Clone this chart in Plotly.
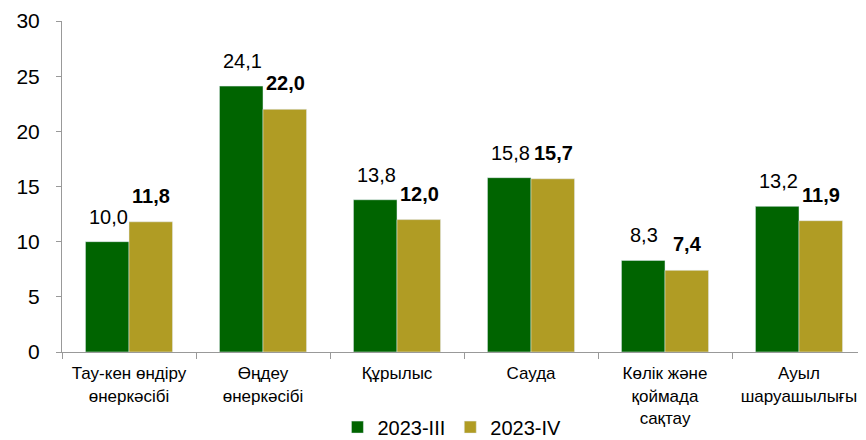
import plotly.graph_objects as go

categories = ["Тау-кен өндіру<br>өнеркәсібі", "Өңдеу<br>өнеркәсібі", "Құрылыс", "Сауда",
              "Көлік және<br>қоймада<br>сақтау", "Ауыл<br>шаруашылығы"]
s_iii = [10.0, 24.1, 13.8, 15.8, 8.3, 13.2]
s_iv = [11.8, 22.0, 12.0, 15.7, 7.4, 11.9]
names = ["2023-III", "2023-IV"]

def fmt(v):
    return f"{v:.1f}".replace(".", ",")

fig = go.Figure()
fig.add_trace(go.Bar(x=categories, y=s_iii, name=names[0], marker_color="#006400"))
fig.add_trace(go.Bar(x=categories, y=s_iv, name=names[1], marker_color="#B09C24"))

# data labels above bars
for c, v in zip(categories, s_iii):
    fig.add_annotation(x=c, y=v, text=fmt(v), showarrow=False, xshift=-21, yshift=12,
                       yanchor="bottom", font=dict(size=20, color="#000000"))
for c, v in zip(categories, s_iv):
    fig.add_annotation(x=c, y=v, text=f"<b>{fmt(v)}</b>", showarrow=False, xshift=22, yshift=13,
                       yanchor="bottom", font=dict(size=20, color="#000000"))

# page body has an 8px margin, so the figure is sized and offset to fill 866x440
fig.update_layout(
    width=858, height=432,
    margin=dict(l=54, r=0, t=13, b=88, autoexpand=False),
    plot_bgcolor="white", paper_bgcolor="white",
    font=dict(family="Liberation Sans, Arial, sans-serif", color="#000000"),
    barmode="group", bargap=0.35, bargroupgap=0,
    showlegend=True,
    legend=dict(orientation="h", x=0.485, xanchor="center", y=-0.168, yanchor="top",
                font=dict(size=20), itemwidth=30, traceorder="normal",
                tracegroupgap=0),
)
fig.update_xaxes(showline=True, linecolor="#999999", linewidth=1, ticks="outside",
                 tickson="boundaries", ticklen=6, tickcolor="#999999",
                 tickfont=dict(size=17), tickangle=0, automargin=False, ticklabelstandoff=6)
fig.update_yaxes(range=[0, 30], dtick=5, showgrid=False, showline=True, linecolor="#999999",
                 linewidth=1, ticks="outside", ticklen=5, tickcolor="#999999",
                 tickfont=dict(size=21), zeroline=False, automargin=False, ticklabelstandoff=12)

fig.write_html("out.html")
